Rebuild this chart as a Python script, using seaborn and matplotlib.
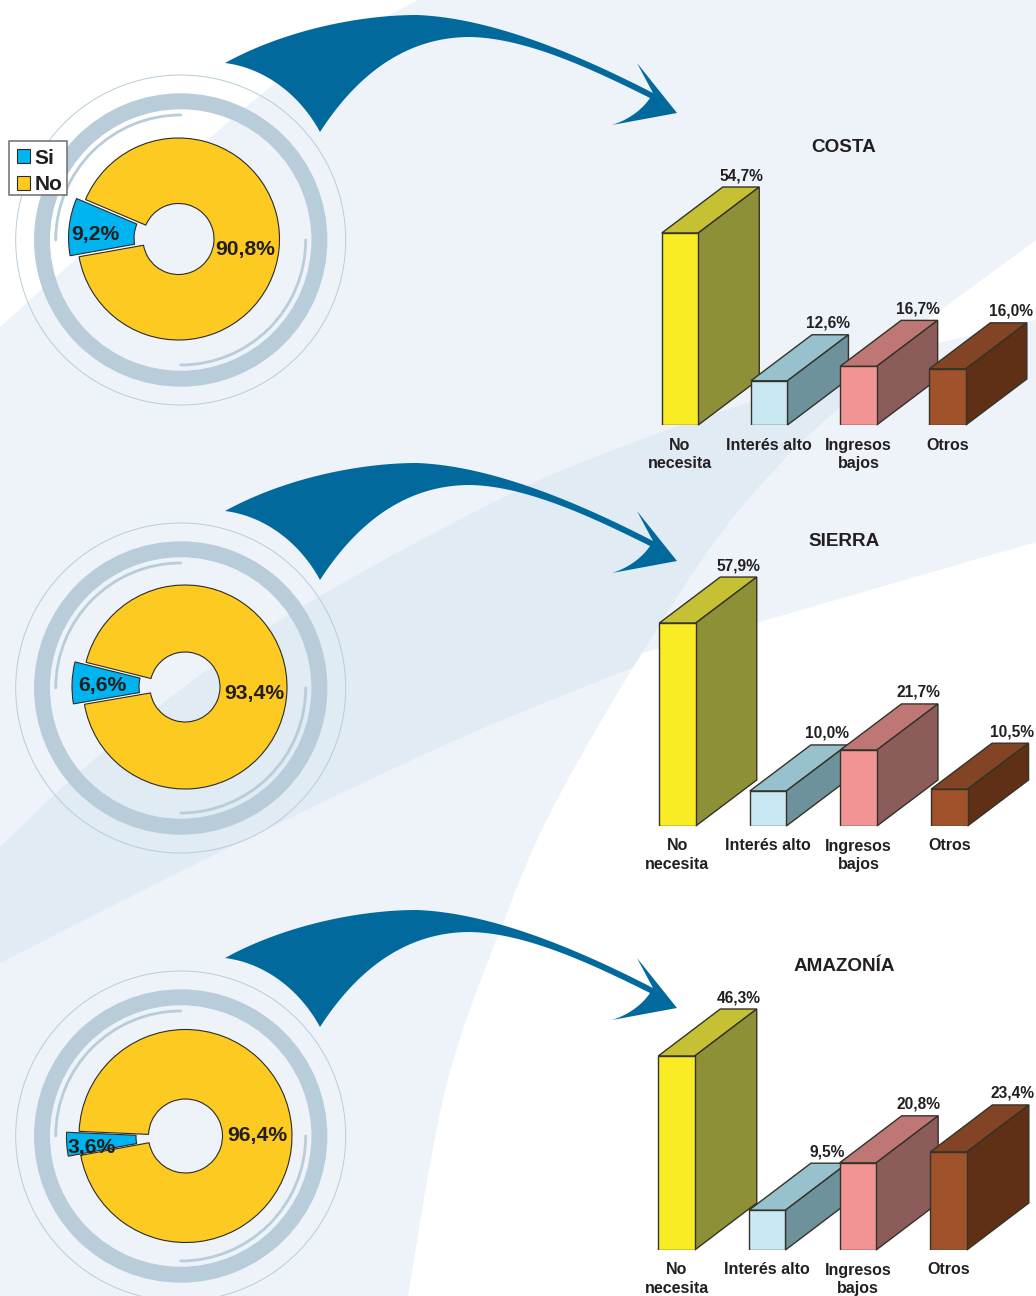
import numpy as np
import matplotlib
matplotlib.use("Agg")
import matplotlib.pyplot as plt
from matplotlib.patches import Polygon, Circle, Arc, Rectangle
import seaborn as sns

# ── DATA
CATEGORIES = ["No\nnecesita", "Interés alto", "Ingresos\nbajos", "Otros"]
COSTA_BARS = [54.7, 12.6, 16.7, 16.0]
SIERRA_BARS = [57.9, 10.0, 21.7, 10.5]
AMAZONIA_BARS = [46.3, 9.5, 20.8, 23.4]
PIE_LABELS = ["Si", "No"]
COSTA_PIE = [9.2, 90.8]
SIERRA_PIE = [6.6, 93.4]
AMAZONIA_PIE = [3.6, 96.4]
REGIONS = ["COSTA", "SIERRA", "AMAZONÍA"]

# ── STYLE
W, H = 1036, 1296
INK = "#231F20"
LIGHT = "#EEF3FA"
BAND = "#E0EBF3"
RING = "#B8CCDA"
ARROW = "#01699C"
PIE_COLORS = ["#00B5EF", "#FDCA22"]
FRONT = ["#F9EC25", "#C8E9F4", "#F19493", "#A0522B"]
TOP = ["#C6C035", "#97C2CD", "#BE7774", "#824425"]
SIDE = ["#8E9038", "#6E929B", "#8B5C5A", "#5F3016"]
LABEL_NUDGE = [0, -2, -1, 2]

sns.set_theme(style="white")
plt.rcParams["font.family"] = ["Liberation Sans", "DejaVu Sans"]
plt.rcParams["font.weight"] = "bold"


def smooth(pts, n=24):
    # Catmull-Rom through points, for the decorative shapes
    p = np.array(pts, float)
    p = np.vstack([p[0], p, p[-1]])
    t = np.linspace(0, 1, n)[:, None]
    out = []
    for i in range(1, len(p) - 2):
        a, b, c, d = p[i - 1], p[i], p[i + 1], p[i + 2]
        out.append(0.5 * (2 * b + (c - a) * t + (2 * a - 5 * b + 4 * c - d) * t ** 2
                          + (3 * b - a - 3 * c + d) * t ** 3))
    return np.vstack(out)


def bez(p0, p1, p2, p3, n=40):
    t = np.linspace(0, 1, n)[:, None]
    p0, p1, p2, p3 = [np.array(q, float) for q in (p0, p1, p2, p3)]
    return (1 - t) ** 3 * p0 + 3 * (1 - t) ** 2 * t * p1 + 3 * (1 - t) * t ** 2 * p2 + t ** 3 * p3


def px_axes(left, top, width, height, **kw):
    return fig.add_axes([left / W, 1 - (top + height) / H, width / W, height / H], **kw)


fig = plt.figure(figsize=(W / 100, H / 100), dpi=100, facecolor="white")

# ── BACKGROUND
bg = px_axes(0, 0, W, H)
bg.set_xlim(0, W)
bg.set_ylim(H, 0)
bg.axis("off")
bg.add_patch(Rectangle((0, 0), W, H, fc=LIGHT, ec="none"))

corner = smooth([(418, 0), (277, 82), (67, 267), (0, 327)])
bg.add_patch(Polygon(np.vstack([[(0, 0)], corner]), fc="white", ec="none"))

bg.add_patch(Polygon([(W, 240), (927, 320), (880, 358), (930, 345), (W, 320)], fc="white", ec="none"))

curve = smooth([(930, 345), (842, 405), (739, 510), (650, 640), (557, 800), (507, 913), (447, 1083), (408, 1296)])
swoosh = curve[curve[:, 1] >= 650]
bg.add_patch(Polygon(np.vstack([[(W, 542), (756, 623)], swoosh, [(W, H)]]), fc="white", ec="none"))

band_top = smooth([(0, 847), (102, 753), (269, 627), (498, 500), (640, 440), (757, 400), (930, 345)])
band_right = curve[curve[:, 1] <= 667]
band_low = smooth([(band_right[-1, 0], 667), (449, 743), (212, 856), (0, 963)])
bg.add_patch(Polygon(np.vstack([band_top, band_right, band_low]), fc=BAND, ec="none"))

# ── RINGS + ARROWS
arrow = np.vstack([
    bez((225, 63), (285, 30), (360, 15), (417, 15)),
    bez((417, 15), (495, 18), (585, 58), (653, 93)),
    [(637, 63), (677, 113)],
    bez((612, 125), (628, 120), (642, 110), (650, 98)),
    bez((650, 98), (590, 68), (525, 38), (470, 37)),
    bez((470, 37), (410, 37), (360, 70), (320, 132)),
    bez((320, 132), (300, 95), (265, 68), (225, 63)),
])

for cy, shift in zip([240, 688, 1136], [0, 448, 895]):
    cx = 180.7
    bg.add_patch(Circle((cx, cy), 165, fill=False, ec=RING, lw=0.7))
    bg.add_patch(Circle((cx, cy), 138.7, fill=False, ec=RING, lw=11.5))
    for th in [(0, 90), (180, 270)]:
        bg.add_patch(Arc((cx, cy), 250, 250, theta1=th[0], theta2=th[1], ec=RING, lw=2, capstyle="round"))
    bg.add_patch(Polygon(arrow + [0, shift], fc=ARROW, ec="none"))


# ── DONUTS
def donut(vals, cx, cy, R, hole, start, shift):
    box = R * 1.4
    ax = px_axes(cx - box, cy - box, 2 * box, 2 * box)
    wedges, _ = ax.pie(vals, colors=PIE_COLORS, startangle=start, radius=1,
                       explode=[shift / R, 0], normalize=True,
                       wedgeprops=dict(width=(R - hole) / R, edgecolor="#2b2b2b", linewidth=0.8))
    ax.set_xlim(-1.4, 1.4)
    ax.set_ylim(-1.4, 1.4)
    # white sliver between the pulled-out slice and the ring
    end = start + vals[0] * 3.6
    mid = np.deg2rad((start + end) / 2)
    for a in np.deg2rad([start, end]):
        r = np.array([hole / R + shift / R, 1.0])
        ax.plot(r * np.cos(a) + 0.5 * shift / R * np.cos(mid),
                r * np.sin(a) + 0.5 * shift / R * np.sin(mid),
                color="white", lw=1.4, zorder=0.5, solid_capstyle="butt")
    ax.axis("off")
    return wedges


leg_wedges = donut(COSTA_PIE, 178.5, 239, 101, 35.5, 157, 9)
donut(SIERRA_PIE, 185, 687, 102, 35, 166, 11)
donut(AMAZONIA_PIE, 185.5, 1136, 106.5, 37, 177.5, 12.5)

bg.add_patch(Rectangle((9, 141), 58, 54, fc="white", ec="#6D6E71", lw=1.1, zorder=5))
leg = fig.legend(leg_wedges, PIE_LABELS, loc="upper left", bbox_to_anchor=(9 / W, 1 - 141 / H),
                 borderaxespad=0, frameon=False, fontsize=15, handlelength=0.63, handleheight=0.63,
                 handletextpad=0.25, labelspacing=0.38, borderpad=0.36, labelcolor=INK)

pie_text = [("9,2%", 95, 234.5), ("90,8%", 245, 250), ("6,6%", 102, 686),
            ("93,4%", 254, 693.5), ("3,6%", 92, 1148), ("96,4%", 257, 1135.5)]
for s, x, y in pie_text:
    fig.text(x / W, 1 - y / H, s, ha="center", va="center", fontsize=15.2, color=INK)


# ── 3D BARS
def bars3d(vals, x0, spacing, base, scale, dx, dy):
    ax = px_axes(x0 - spacing / 2, base - 60 * scale, 4 * spacing, 60 * scale)
    frame = {"cat": CATEGORIES, "val": vals}
    sns.barplot(data=frame, x="cat", y="val", hue="cat", palette=FRONT, dodge=False, legend=False,
                width=36.5 / spacing, saturation=1, edgecolor="#333328", linewidth=1, ax=ax)
    ax.set_xlim(-0.5, 3.5)
    ax.set_ylim(0, 60)
    ax.set_facecolor("none")
    ax.set_xlabel("")
    ax.set_ylabel("")
    ax.set_yticks([])
    sns.despine(ax=ax, left=True, bottom=True)
    ax.tick_params(axis="x", length=0, pad=9)
    for lab in ax.get_xticklabels():
        lab.set_fontsize(11.5)
        lab.set_color(INK)
        lab.set_linespacing(1.32)
    ox, oy = dx / spacing, dy / scale
    for i, (bar, v) in enumerate(zip(ax.patches, vals)):
        x1, x2 = bar.get_x(), bar.get_x() + bar.get_width()
        z = 3 + i * 3
        ax.add_patch(Polygon([(x1, v), (x2, v), (x2 + ox, v + oy), (x1 + ox, v + oy)], fc=TOP[i],
                             ec="#333328", lw=1, zorder=z, clip_on=False))
        ax.add_patch(Polygon([(x2, 0), (x2, v), (x2 + ox, v + oy), (x2 + ox, oy)], fc=SIDE[i],
                             ec="#333328", lw=1, zorder=z + 1, clip_on=False))
        bar.set_zorder(z + 2)
        ax.annotate(f"{v:.1f}%".replace(".", ","), xy=(i, v), xytext=(dx + LABEL_NUDGE[i], dy + 4),
                    textcoords="offset pixels", ha="center", va="bottom",
                    fontsize=11.2, color=INK, zorder=20, annotation_clip=False)


bars3d(COSTA_BARS, 680, 89.2, 425, 3.51, 61, 46)
bars3d(SIERRA_BARS, 677.5, 90.6, 826, 3.505, 61, 46)
bars3d(AMAZONIA_BARS, 676.5, 90.7, 1250, 4.19, 62, 47)

for name, y in zip(REGIONS, [147.5, 542, 966.5]):
    fig.text(844 / W, 1 - y / H, name, ha="center", va="center", fontsize=13.6, color=INK)

fig.savefig("out.png", dpi=100)
